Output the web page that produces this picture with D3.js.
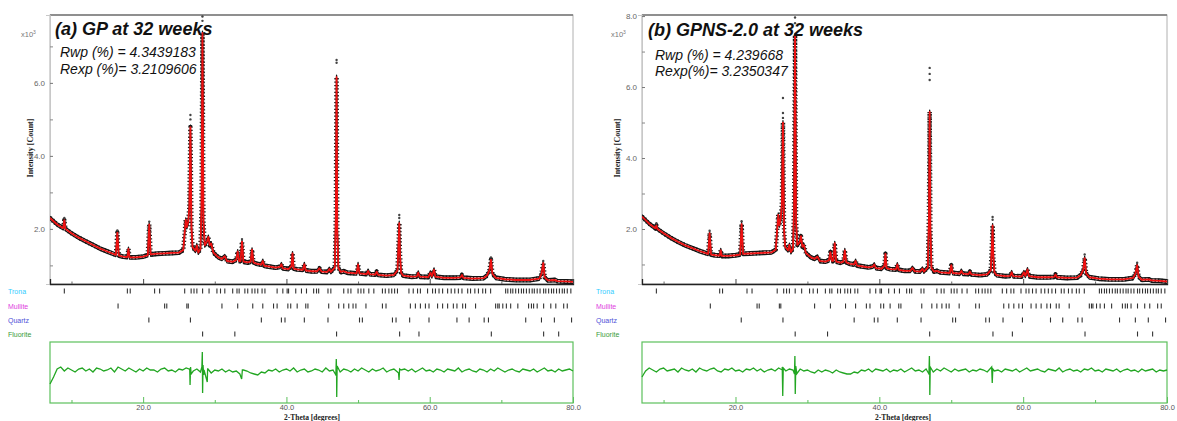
<!DOCTYPE html>
<html>
<head>
<meta charset="utf-8">
<script src="https://cdn.jsdelivr.net/npm/d3@7"></script>
<style>
  body { margin: 0; background: #fff; }
  svg { display: block; font-family: Arial, "Liberation Sans", sans-serif; }
</style>
</head>
<body>
<div id="chart"></div>
<script>
// ---- data (intensity in 10^3 counts) ----
const xDomain = [7, 80];
const xMajor = [20, 40, 60, 80];
const xMinor = [10, 30, 50, 70];

const titles = ["(a) GP at 32 weeks", "(b) GPNS-2.0 at 32 weeks"];
const rwpText = ["Rwp (%) = 4.3439183", "Rwp (%) = 4.239668"];
const rexpText = ["Rexp (%)= 3.2109606", "Rexp(%)= 3.2350347"];

const phaseNames = ["Trona", "Mullite", "Quartz", "Fluorite"];
const phaseColors = ["#33ccff", "#e040e0", "#5050d8", "#3a9a3a"];

const tronaPos = [9.0, 17.8, 18.2, 21.6, 22.3, 25.8, 26.7, 27.1, 27.5, 28.3, 29.2, 30.3, 30.8, 31.4, 32.5, 33.1, 33.4,
  34.2, 34.6, 35.2, 35.6, 36.0, 36.6, 37.0, 38.7, 39.5, 40.1, 40.3, 41.3, 42.1, 42.8, 43.8, 44.2, 44.5, 45.8, 46.2,
  48.0, 48.6, 49.0, 50.0, 50.4, 50.8, 51.5, 52.2, 53.4, 53.8, 54.3, 54.7, 55.1, 55.5, 57.1, 57.7, 58.3, 58.7, 59.7,
  60.4, 60.8, 61.3, 61.8, 62.5, 63.0, 63.5, 64.0, 64.5, 65.3, 65.7, 66.3, 66.8, 67.4, 67.8, 68.5, 70.6, 70.9, 71.3,
  71.6, 72.0, 72.4, 72.8, 73.1, 73.5, 73.9, 74.3, 74.6, 75.0, 75.4, 75.9, 76.2, 76.6, 77.0, 77.3, 77.7, 78.1, 78.5,
  78.8, 79.2, 79.7];
const mullitePos = [16.5, 23.0, 23.3, 26.1, 26.3, 31.0, 33.2, 35.3, 36.7, 38.2, 38.7, 40.2, 40.6, 41.5, 42.7, 43.0,
  45.9, 47.3, 48.0, 48.7, 49.3, 49.7, 51.1, 53.4, 53.9, 57.3, 58.0, 58.7, 59.4, 59.9, 61.1, 61.8, 62.5, 63.3, 63.8,
  64.6, 65.0, 66.4, 69.2, 69.5, 69.7, 70.2, 70.7, 71.3, 72.3, 73.8, 74.2, 74.5, 75.0, 75.9, 76.9, 77.6, 78.7, 79.2];
const quartzPos = [20.8, 26.6, 36.5, 39.3, 39.8, 42.5, 45.8, 50.2, 50.6, 54.8, 55.3, 57.2, 59.9, 63.8, 65.5, 67.6,
  68.2, 73.4, 75.6, 77.4, 79.8];
const fluoritePos = [28.3, 32.8, 47.0, 55.8, 58.5, 68.6, 75.9, 78.0];

const calcA = [[7.0,2.3],[8.0,2.12],[8.85,2.02],[9.0,2.24],[9.15,2.0],[10,1.88],[11,1.76],[12,1.66],[13,1.56],[14,1.46],
  [15,1.38],[16.2,1.29],[16.4,1.9],[16.6,1.27],[17.2,1.24],[17.8,1.23],[17.95,1.45],[18.1,1.22],[19,1.22],[20,1.24],
  [20.65,1.28],[20.85,2.12],[21.05,1.3],[22,1.32],[23,1.33],[24,1.34],[25,1.35],[25.6,1.42],[25.8,1.9],[25.95,2.25],
  [26.1,2.05],[26.3,2.2],[26.45,2.6],[26.6,4.79],[26.75,2.0],[26.9,1.5],[27.3,1.4],[27.5,1.55],[27.7,1.35],[28.0,1.45],
  [28.15,2.6],[28.28,7.37],[28.42,2.2],[28.6,1.55],[28.9,1.65],[29.1,1.78],[29.3,1.55],[29.5,1.6],[29.8,1.35],
  [30.5,1.22],[31.0,1.18],[31.4,1.25],[31.7,1.12],[32.5,1.1],[33.0,1.15],[33.2,1.38],[33.4,1.12],[33.6,1.12],
  [33.8,1.65],[34.0,1.1],[34.6,1.08],[35.0,1.1],[35.2,1.43],[35.4,1.08],[35.9,1.04],[36.5,1.02],[36.7,1.12],
  [36.9,0.99],[37.5,0.97],[38.5,0.94],[39.1,0.96],[39.3,1.03],[39.5,0.92],[40.3,0.9],[40.7,0.98],[40.85,1.33],
  [41.0,0.91],[41.5,0.89],[42.3,0.88],[42.5,1.03],[42.7,0.86],[43.5,0.84],[44.3,0.84],[44.6,0.92],[44.9,0.83],
  [45.7,0.82],[46.0,0.9],[46.2,0.82],[46.75,0.94],[46.9,2.4],[47.0,6.16],[47.1,2.0],[47.25,0.93],[47.6,0.82],
  [48.0,0.84],[48.5,0.8],[49.8,0.78],[50.0,1.03],[50.2,0.78],[51.2,0.76],[51.4,0.85],[51.6,0.76],[52.4,0.75],
  [52.6,0.83],[52.8,0.74],[54.0,0.72],[55.0,0.74],[55.5,0.86],[55.65,1.6],[55.75,2.16],[55.85,1.3],[56.0,0.8],
  [56.3,0.72],[57.5,0.69],[58.2,0.7],[58.4,0.8],[58.6,0.69],[59.8,0.68],[60.1,0.8],[60.3,0.7],[60.6,0.88],[60.8,0.69],
  [62,0.66],[63.5,0.66],[64.3,0.67],[64.5,0.74],[64.7,0.66],[66,0.64],[67.5,0.65],[68.0,0.72],[68.35,0.88],
  [68.55,1.16],[68.75,0.77],[69.2,0.66],[70.5,0.62],[72,0.6],[74,0.6],[75.3,0.64],[75.6,0.77],[75.85,1.07],
  [76.05,0.67],[76.5,0.59],[77.5,0.6],[77.8,0.57],[79,0.56],[80,0.55]];

const calcB = [[7.0,2.35],[8.0,2.15],[8.85,2.02],[9.0,2.1],[9.15,2.0],[10,1.88],[11,1.75],[12,1.64],[13,1.54],[14,1.46],
  [15,1.38],[16.2,1.3],[16.4,1.88],[16.6,1.28],[17.2,1.26],[17.8,1.25],[17.95,1.4],[18.1,1.24],[19,1.24],[20,1.26],
  [20.65,1.28],[20.85,2.14],[21.05,1.3],[22,1.31],[23,1.32],[24,1.33],[25,1.34],[25.6,1.42],[25.8,2.0],[25.95,2.4],
  [26.1,2.1],[26.3,2.3],[26.45,2.7],[26.6,5.0],[26.75,2.0],[26.9,1.5],[27.3,1.4],[27.5,1.55],[27.7,1.35],[28.0,1.45],
  [28.15,2.7],[28.28,7.46],[28.42,2.2],[28.6,1.55],[28.9,1.62],[29.1,1.8],[29.3,1.5],[29.5,1.55],[29.8,1.32],
  [30.5,1.2],[31.0,1.16],[31.4,1.22],[31.7,1.1],[32.5,1.08],[33.0,1.12],[33.2,1.35],[33.4,1.1],[33.6,1.1],
  [33.8,1.6],[34.0,1.08],[34.6,1.05],[35.0,1.08],[35.2,1.4],[35.4,1.06],[35.9,1.02],[36.5,1.0],[36.7,1.1],
  [36.9,0.97],[37.5,0.95],[38.5,0.92],[39.1,0.94],[39.3,1.0],[39.5,0.9],[40.3,0.88],[40.7,0.96],[40.85,1.3],
  [41.0,0.9],[41.5,0.87],[42.3,0.86],[42.5,1.0],[42.7,0.85],[43.5,0.82],[44.3,0.82],[44.6,0.9],[44.9,0.81],
  [45.7,0.8],[46.0,0.88],[46.2,0.8],[46.75,0.92],[46.9,2.4],[47.0,5.3],[47.1,2.0],[47.25,0.9],[47.6,0.8],
  [48.0,0.82],[48.5,0.78],[49.8,0.76],[50.0,0.98],[50.2,0.76],[51.2,0.74],[51.4,0.82],[51.6,0.74],[52.4,0.73],
  [52.6,0.8],[52.8,0.72],[54.0,0.7],[55.0,0.72],[55.5,0.84],[55.65,1.55],[55.75,2.1],[55.85,1.25],[56.0,0.78],
  [56.3,0.7],[57.5,0.67],[58.2,0.68],[58.4,0.78],[58.6,0.67],[59.8,0.66],[60.1,0.78],[60.3,0.68],[60.6,0.86],
  [60.8,0.67],[62,0.64],[63.5,0.64],[64.3,0.65],[64.5,0.72],[64.7,0.64],[66,0.62],[67.5,0.63],[68.0,0.7],
  [68.35,0.85],[68.55,1.18],[68.75,0.75],[69.2,0.64],[70.5,0.6],[72,0.58],[74,0.58],[75.3,0.62],[75.6,0.74],
  [75.85,0.98],[76.05,0.65],[76.5,0.57],[77.5,0.58],[77.8,0.55],[79,0.54],[80,0.52]];

// observed points standing above the calculated peak tops
const obsTopsA = [[9.0,2.3],[16.4,1.96],[20.85,2.2],[26.6,5.0],[26.6,5.12],[28.28,7.7],[28.28,7.82],[33.8,1.72],
  [47.0,6.55],[47.0,6.63],[55.75,2.3],[55.75,2.38],[68.55,1.22],[75.85,1.12]];
const obsTopsB = [[9.0,2.16],[16.4,1.95],[20.85,2.22],[26.6,5.13],[26.6,5.27],[26.6,5.69],[28.28,7.8],[28.28,7.96],
  [47.0,6.2],[47.0,6.37],[47.0,6.54],[55.75,2.26],[55.75,2.34],[68.55,1.28],[75.85,1.05]];

// difference curve (obs - calc), in pixels of the lower box, every 0.5 deg from 7.0
const diffStep = 0.5;
const noiseA = [-13,-6,2,4,0,3,1,-1,2,3, 0,2,-1,3,2,0,1,3,-1,4, 2,0,3,1,-1,2,0,3,1,1, -1,2,3,0,1,-1,2,1,3,2,
  0,2,-1,1,2,-2,1,0,2,-1, 1,-1,0,-3,1,0,-2,-3,-4,-1, -2,1,0,2,-1,1,2,0,3,-1, 1,2,-1,0,2,1,-1,3,0,1,
  0,-1,2,1,-1,2,0,3,1,-1, 2,0,1,3,-1,1,2,-1,1,2, 0,2,-1,1,3,0,1,-1,2,1, -1,2,1,0,3,-1,1,2,0,-1,
  2,1,-1,2,0,3,1,-1,1,2, 0,-1,2,1,0,2,-1,1,3,0, 1,-1,2,0,1,2,0];
const noiseB = [-6,0,3,1,-1,2,3,0,1,2, -1,3,1,0,2,-1,3,1,0,2, 3,0,-1,2,1,3,0,1,-1,2, 1,3,0,2,-1,1,2,0,3,1,
  0,2,1,-1,2,0,1,-1,-2,1, -1,1,0,-2,1,-1,-2,-3,-3,-1, -2,1,0,2,-1,2,1,0,2,-1, 1,0,2,-1,1,3,0,1,-1,2,
  1,-1,2,0,3,1,-1,2,0,1, 2,-1,1,0,2,1,-1,3,0,1, -1,2,1,0,2,-1,1,3,0,1, 2,0,-1,2,1,0,3,-1,1,2,
  0,1,-1,2,1,3,0,1,-1,2, 1,0,2,-1,1,2,0,1,-1,2, 0,1,2,-1,1,0,1];
const spikesA = [[26.45,2],[26.55,-14],[26.62,4],[26.7,-3],[28.2,4],[28.26,19],[28.3,-22],[28.36,6],[28.45,-4],
  [28.95,-11],[29.05,2],[33.75,-8],[33.85,1],[46.9,-4],[46.96,12],[47.02,-26],[47.08,5],[55.65,-2],[55.72,-9],[55.8,2]];
const spikesB = [[26.5,4],[26.57,-25],[26.64,3],[28.2,-3],[28.26,15],[28.31,-23],[28.38,5],[28.5,-3],
  [46.9,-3],[46.96,15],[47.02,-24],[47.08,4],[55.62,4],[55.7,-12],[55.78,2]];

// ---- layout ----
const width = 1177, height = 421;
const mainTop = 15, mainBottom = 284;
const diffTop = 342, diffBottom = 403;
const rowY = [291, 306, 320, 334];

const panels = [
  { x0: 50, x1: 573, yDom: [0.49, 7.86], yTicks: [2, 4, 6], yMinor: [1, 3, 5, 7],
    calc: calcA, obs: obsTopsA, noise: noiseA, spikes: spikesA, idx: 0,
    titleXY: [55, 35], rwpXY: [60, 57], rexpXY: [60, 74], unitXY: [21, 37], yLabX: 33, phaseX: 8, thetaX: 284 },
  { x0: 642, x1: 1167, yDom: [0.45, 8.03], yTicks: [2, 4, 6, 8], yMinor: [1, 3, 5, 7],
    calc: calcB, obs: obsTopsB, noise: noiseB, spikes: spikesB, idx: 1,
    titleXY: [648, 36], rwpXY: [655, 60], rexpXY: [655, 76], unitXY: [611, 37], yLabX: 620, phaseX: 596, thetaX: 875 }
];

const phasePos = [tronaPos, mullitePos, quartzPos, fluoritePos];

const svg = d3.select("#chart").append("svg")
  .attr("width", width)
  .attr("height", height);

let drawPanel = (p) => {
  const g = svg.append("g");
  const x = d3.scaleLinear().domain(xDomain).range([p.x0, p.x1]);
  const y = d3.scaleLinear().domain(p.yDom).range([mainBottom, mainTop]);
  const yd = d3.scaleLinear().domain([-32, 29]).range([diffBottom, diffTop]);

  const clipId = "clip" + p.idx;
  g.append("clipPath").attr("id", clipId)
    .append("rect")
    .attr("x", p.x0).attr("y", mainTop)
    .attr("width", p.x1 - p.x0).attr("height", mainBottom - mainTop);

  // frame of the main plot
  g.append("rect")
    .attr("x", p.x0).attr("y", mainTop)
    .attr("width", p.x1 - p.x0).attr("height", mainBottom - mainTop)
    .attr("fill", "none").attr("stroke", "#b0b0b0");
  g.append("line")
    .attr("x1", p.x0).attr("x2", p.x1).attr("y1", mainTop).attr("y2", mainTop)
    .attr("stroke", "#777").attr("stroke-width", 1.5);

  // y axis
  const yAxis = g.append("g")
    .attr("transform", "translate(" + p.x0 + ",0)")
    .call(d3.axisLeft(y).tickValues(p.yTicks).tickSize(4).tickPadding(1).tickFormat(d3.format(".1f")));
  yAxis.select(".domain").attr("stroke", "#c8c8c8");
  yAxis.selectAll(".tick line").attr("stroke", "#777").attr("x2", 3);
  yAxis.selectAll("text").attr("fill", "#666").style("font-size", "8px");
  const yMin = g.append("g")
    .attr("transform", "translate(" + p.x0 + ",0)")
    .call(d3.axisLeft(y).tickValues(p.yMinor).tickSize(-3).tickFormat(""));
  yMin.select(".domain").remove();
  yMin.selectAll(".tick line").attr("stroke", "#888");

  // bottom axis of main plot
  const xb = g.append("g")
    .attr("transform", "translate(0," + mainBottom + ")")
    .call(d3.axisBottom(x).tickValues(xMajor).tickSize(-5).tickFormat(""));
  xb.select(".domain").attr("stroke", "#222").attr("stroke-width", 1.3);
  xb.selectAll(".tick line").attr("stroke", "#444");
  g.append("g")
    .attr("transform", "translate(0," + mainBottom + ")")
    .call(d3.axisBottom(x).tickValues(xMinor).tickSize(-2.5).tickFormat(""))
    .call(a => a.select(".domain").remove())
    .selectAll(".tick line").attr("stroke", "#666");

  // observed band + calculated profile
  const line = d3.line()
    .x(d => x(d[0]))
    .y(d => y(d[1]));
  const plot = g.append("g").attr("clip-path", "url(#" + clipId + ")");
  // crosses of the observed points: dotted on the peaks, dense along the background
  plot.append("path")
    .datum(p.calc)
    .attr("d", line)
    .attr("fill", "none")
    .attr("stroke", "#1a1a1a")
    .attr("stroke-width", 4.5)
    .attr("stroke-linejoin", "round")
    .attr("stroke-dasharray", "1.2,2.2");
  [-1.8, 1.8].forEach(off => {
    plot.append("path")
      .datum(p.calc)
      .attr("d", line)
      .attr("transform", "translate(0," + off + ")")
      .attr("fill", "none")
      .attr("stroke", "#151515")
      .attr("stroke-width", 1.3)
      .attr("stroke-linejoin", "round");
  });
  plot.append("path")
    .datum(p.calc)
    .attr("d", line)
    .attr("fill", "none")
    .attr("stroke", "#ee1111")
    .attr("stroke-width", 1.8)
    .attr("stroke-linejoin", "round");
  plot.selectAll("circle.obs")
    .data(p.obs)
    .enter().append("circle")
    .attr("class", "obs")
    .attr("cx", d => x(d[0]))
    .attr("cy", d => y(d[1]))
    .attr("r", 1.2)
    .attr("fill", "#444");

  // reflection markers of each phase
  phasePos.forEach((pos, i) => {
    g.selectAll(null)
      .data(pos)
      .enter().append("line")
      .attr("x1", d => x(d)).attr("x2", d => x(d))
      .attr("y1", rowY[i] - 2.5).attr("y2", rowY[i] + 2.5)
      .attr("stroke", "#333").attr("stroke-width", 1.1);
    g.append("text")
      .attr("x", p.phaseX).attr("y", rowY[i] + 2.5)
      .attr("fill", phaseColors[i])
      .style("font-size", "7px")
      .text(phaseNames[i]);
  });

  // difference plot
  g.append("rect")
    .attr("x", p.x0).attr("y", diffTop)
    .attr("width", p.x1 - p.x0).attr("height", diffBottom - diffTop)
    .attr("fill", "none").attr("stroke", "#5cc05c").attr("stroke-width", 1.2);

  const diffPts = p.noise.map((v, i) => [xDomain[0] + i * diffStep, v])
    .concat(p.spikes)
    .sort((a, b) => a[0] - b[0]);
  g.append("path")
    .datum(diffPts)
    .attr("d", d3.line().x(d => x(d[0])).y(d => yd(d[1])))
    .attr("fill", "none")
    .attr("stroke", "#22a622")
    .attr("stroke-width", 1.3);

  const xd = g.append("g")
    .attr("transform", "translate(0," + diffBottom + ")")
    .call(d3.axisBottom(x).tickValues(xMajor).tickSize(-6).tickPadding(2).tickFormat(d3.format(".1f")));
  xd.select(".domain").remove();
  xd.selectAll(".tick line").attr("stroke", "#5cc05c");
  xd.selectAll("text").attr("fill", "#555").attr("dy", "0.6em").style("font-size", "7.5px");
  g.append("g")
    .attr("transform", "translate(0," + diffBottom + ")")
    .call(d3.axisBottom(x).tickValues(xMinor).tickSize(-3).tickFormat(""))
    .call(a => a.select(".domain").remove())
    .selectAll(".tick line").attr("stroke", "#5cc05c");

  // texts
  g.append("text")
    .attr("x", p.titleXY[0]).attr("y", p.titleXY[1])
    .style("font-size", "18px").style("font-weight", "bold").style("font-style", "italic")
    .attr("fill", "#111")
    .text(titles[p.idx]);
  g.append("text")
    .attr("x", p.rwpXY[0]).attr("y", p.rwpXY[1])
    .style("font-size", "14px").style("font-style", "italic").attr("fill", "#111")
    .text(rwpText[p.idx]);
  g.append("text")
    .attr("x", p.rexpXY[0]).attr("y", p.rexpXY[1])
    .style("font-size", "14px").style("font-style", "italic").attr("fill", "#111")
    .text(rexpText[p.idx]);

  const unit = g.append("text")
    .attr("x", p.unitXY[0]).attr("y", p.unitXY[1])
    .attr("fill", "#777").style("font-size", "7.5px")
    .text("x10");
  unit.append("tspan").attr("dy", -3).style("font-size", "5px").text("3");

  g.append("text")
    .attr("transform", "translate(" + p.yLabX + ",148) rotate(-90)")
    .attr("text-anchor", "middle")
    .style("font-family", "'Liberation Serif', 'DejaVu Serif', serif")
    .style("font-size", "8px").style("font-weight", "bold")
    .attr("fill", "#222")
    .text("Intensity [Count]");

  g.append("text")
    .attr("x", p.thetaX).attr("y", 420)
    .style("font-family", "'Liberation Serif', 'DejaVu Serif', serif")
    .style("font-size", "7.5px").style("font-weight", "bold")
    .attr("fill", "#222")
    .text("2-Theta [degrees]");
};

panels.forEach(drawPanel);
</script>
</body>
</html>
